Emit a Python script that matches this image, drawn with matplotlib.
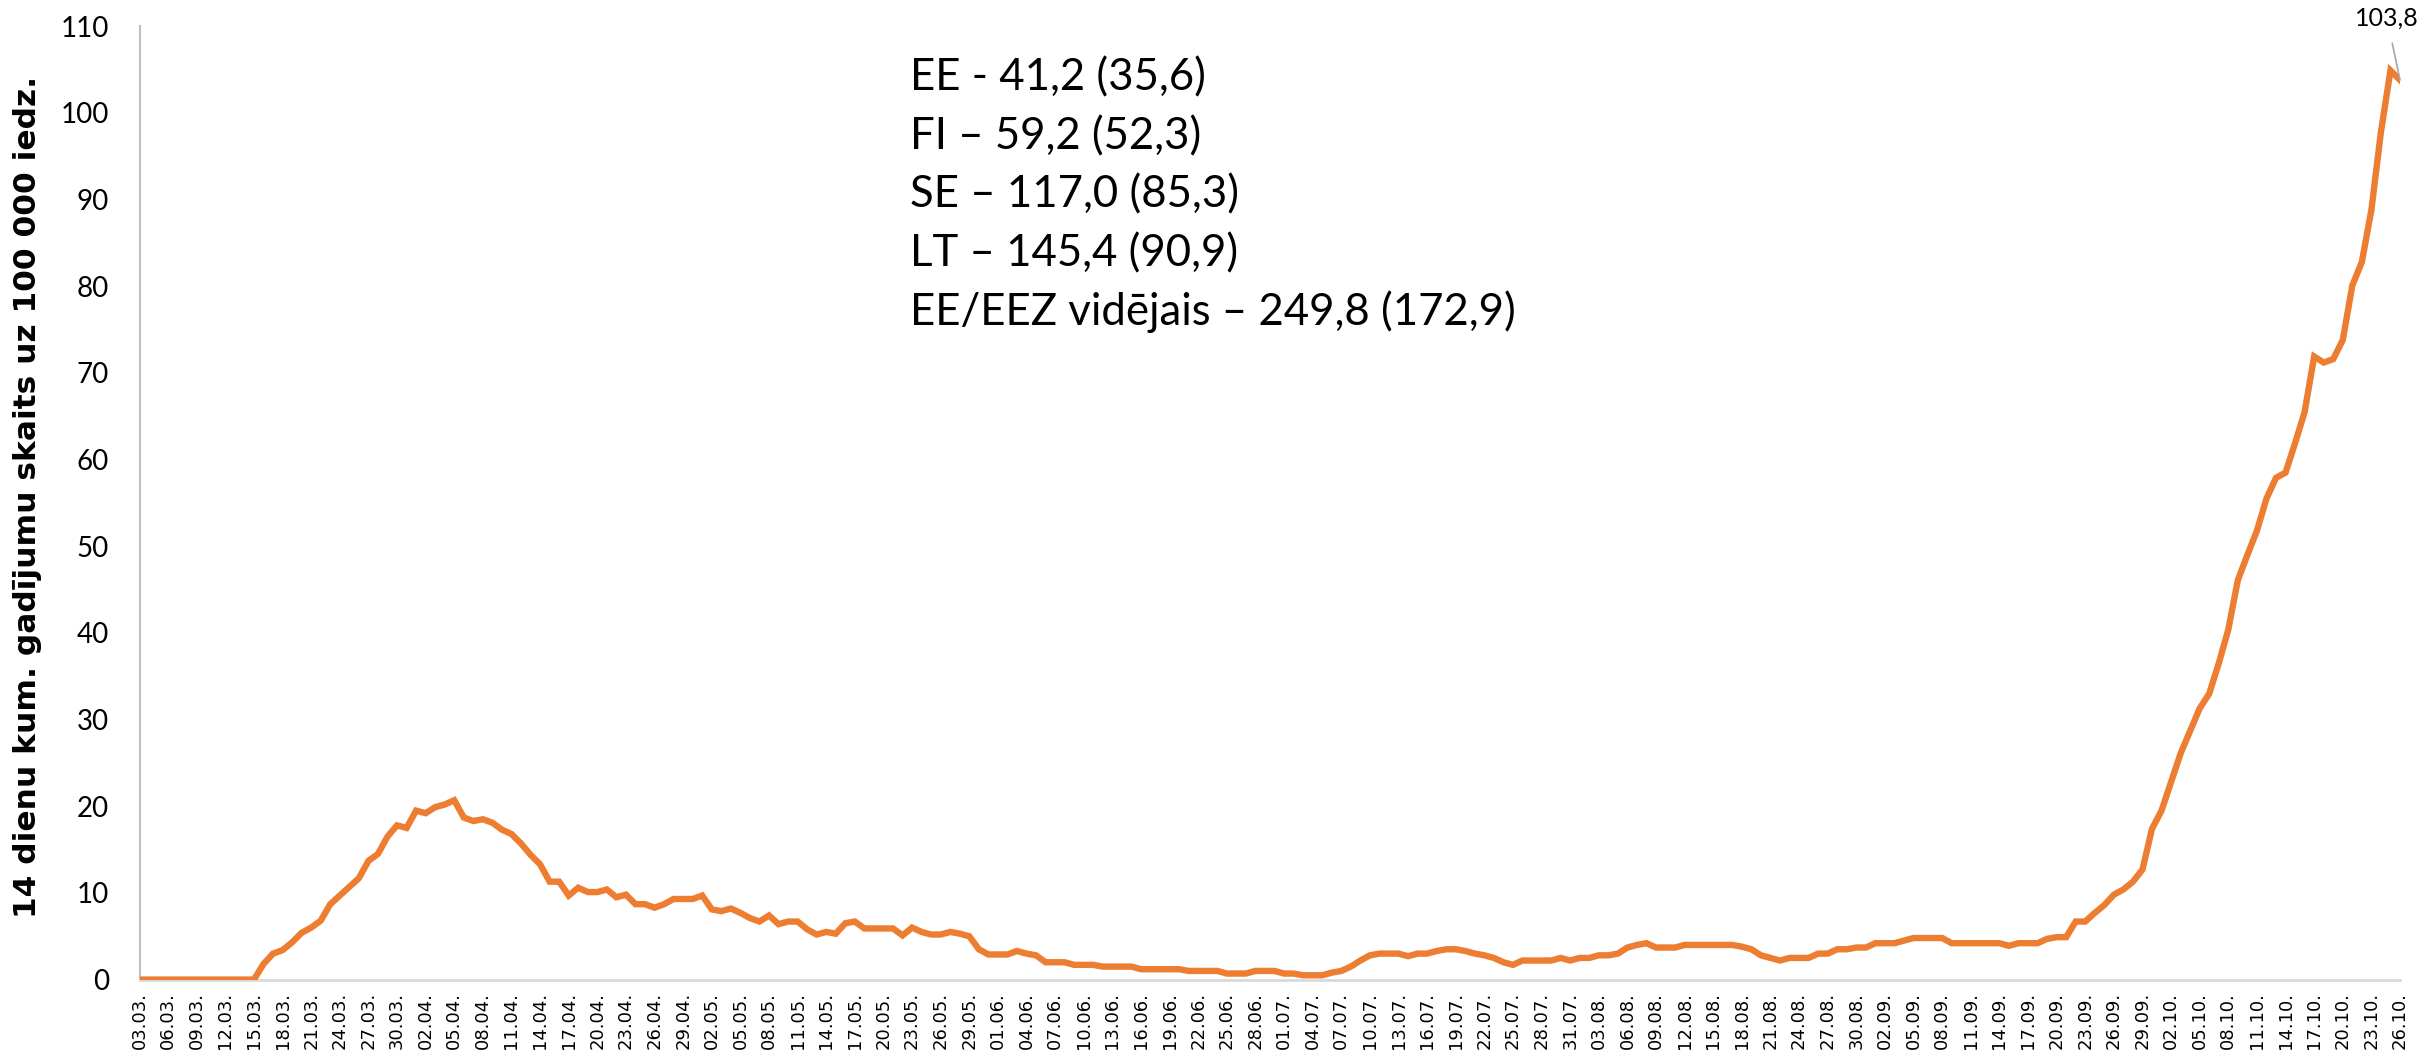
import numpy as np, pandas as pd, matplotlib
matplotlib.use("Agg"); import matplotlib.pyplot as plt

# 14-day cumulative cases per 100 000, one value per day (03.03 - 26.10)
mar = [0, 0, 0, 0, 0, 0, 0, 0, 0, 0, 0, 0, 0, 1.8, 3.0, 3.4, 4.3, 5.4, 6.0, 6.8, 8.7, 9.7, 10.7, 11.7,
       13.7, 14.5, 16.5, 17.8, 17.5]
apr = [19.5, 19.2, 19.9, 20.2, 20.7, 18.7, 18.3, 18.5, 18.1, 17.3, 16.8, 15.7, 14.4, 13.3, 11.3, 11.3,
       9.7, 10.6, 10.1, 10.1, 10.4, 9.5, 9.8, 8.7, 8.7, 8.3, 8.7, 9.3, 9.3, 9.3]
may = [9.7, 8.1, 7.9, 8.2, 7.7, 7.1, 6.7, 7.4, 6.4, 6.7, 6.7, 5.8, 5.2, 5.5, 5.3, 6.5, 6.7, 5.9, 5.9, 5.9,
       5.9, 5.1, 6.0, 5.5, 5.2, 5.2, 5.5, 5.3, 5.0, 3.5, 2.9]
jun = [2.9, 2.9, 3.3, 3.0, 2.8, 2.0, 2.0, 2.0, 1.7, 1.7, 1.7, 1.5, 1.5, 1.5, 1.5, 1.2, 1.2, 1.2, 1.2, 1.2,
       1.0, 1.0, 1.0, 1.0, 0.7, 0.7, 0.7, 1.0, 1.0, 1.0]
jul = [0.7, 0.7, 0.5, 0.5, 0.5, 0.8, 1.0, 1.5, 2.2, 2.8, 3.0, 3.0, 3.0, 2.7, 3.0, 3.0, 3.3, 3.5, 3.5, 3.3,
       3.0, 2.8, 2.5, 2.0, 1.7, 2.2, 2.2, 2.2, 2.2, 2.5, 2.2]
aug = [2.5, 2.5, 2.8, 2.8, 3.0, 3.7, 4.0, 4.2, 3.7, 3.7, 3.7, 4.0, 4.0, 4.0, 4.0, 4.0, 4.0, 3.8, 3.5, 2.8,
       2.5, 2.2, 2.5, 2.5, 2.5, 3.0, 3.0, 3.5, 3.5, 3.7, 3.7]
sep = [4.2, 4.2, 4.2, 4.5, 4.8, 4.8, 4.8, 4.8, 4.2, 4.2, 4.2, 4.2, 4.2, 4.2, 3.9, 4.2, 4.2, 4.2, 4.7, 4.9,
       4.9, 6.7, 6.7, 7.7, 8.6, 9.8, 10.4, 11.3, 12.7, 17.4]
okt = [19.5, 22.8, 26.1, 28.7, 31.3, 33.0, 36.5, 40.4, 46.1, 49.0, 51.8, 55.5, 57.9, 58.5, 61.9, 65.5,
       71.9, 71.2, 71.6, 73.8, 80.1, 82.8, 88.8, 97.8, 104.9, 103.8]
values = mar + apr + may + jun + jul + aug + sep + okt
dates = pd.date_range("2020-03-03", "2020-10-26").strftime("%d.%m.").tolist()

notes = ["EE - 41,2 (35,6)", "FI – 59,2 (52,3)", "SE – 117,0 (85,3)", "LT – 145,4 (90,9)",
         "EE/EEZ vidējais – 249,8 (172,9)"]
ylabel = "14 dienu kum. gadījumu skaits uz 100 000 iedz."

W, H = 2430, 1061
fig = plt.figure(figsize=(W/100, H/100), dpi=100)
ax = fig.add_axes([139.5/W, 1-979.6/H, (2400-139.5)/W, (979.6-26.3)/H])
x = np.arange(len(values))
ax.plot(x, values, color="#ED7D31", lw=4.6, solid_joinstyle="miter", zorder=3)
ax.set_xlim(0, len(values)-1); ax.set_ylim(0, 110)
ax.set_yticks(range(0, 111, 10))
ax.set_yticklabels([str(v) for v in range(0, 111, 10)], fontsize=20, family="Lato")
ax.set_xticks(x[::3])
ax.set_xticklabels(dates[::3], rotation=90, fontsize=13, family="DejaVu Sans")
ax.tick_params(axis="y", length=0, pad=22)
ax.tick_params(axis="x", length=0, pad=9)
for s in ["top", "right"]: ax.spines[s].set_visible(False)
ax.spines["left"].set_color("#BFBFBF"); ax.spines["left"].set_linewidth(1.5)
ax.spines["bottom"].set_color("#D9D9D9"); ax.spines["bottom"].set_linewidth(2)
ax.spines["left"].set_zorder(1)
fig.text(28/W, 1-497/H, ylabel, rotation=90, ha="center", va="center",
         fontsize=22.5, fontweight="bold", family="DejaVu Sans")

for i, t in enumerate(notes):
    fig.text(910/W, 1-(78+58.5*i)/H, t, ha="left", va="center", fontsize=31.5, family="Lato")

ax.annotate("103,8", xy=(x[-1], values[-1]), xytext=(2387/W, 1-18/H), textcoords="figure fraction",
            ha="center", va="center", fontsize=18, family="Lato",
            arrowprops=dict(arrowstyle="-", color="#A6A6A6", lw=1.2, shrinkA=8, shrinkB=0))
fig.savefig("out.png", dpi=100)
